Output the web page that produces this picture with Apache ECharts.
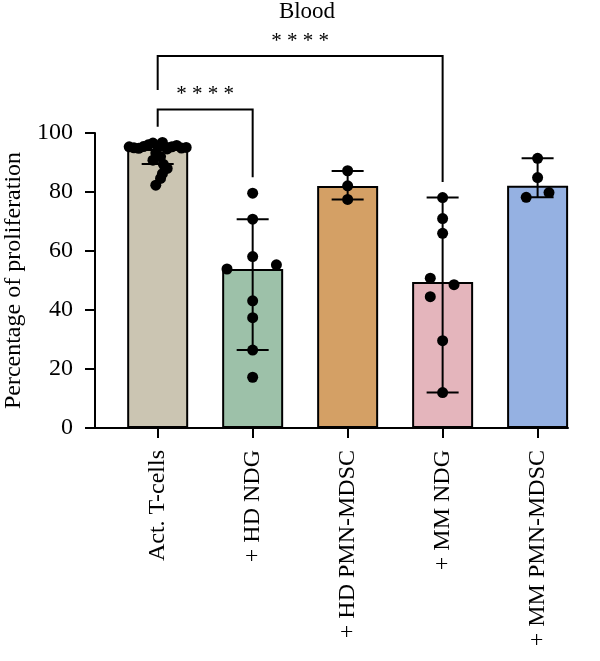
<!DOCTYPE html>
<html>
<head>
<meta charset="utf-8">
<script src="https://cdn.jsdelivr.net/npm/echarts@6/dist/echarts.min.js"></script>
<style>
  html, body { margin: 0; padding: 0; background: #fff; }
  #chart { width: 600px; height: 661px; }
</style>
</head>
<body>
<div id="chart"></div>
<script>
var categories = ['Act. T-cells', '+ HD NDG', '+ HD PMN-MDSC', '+ MM NDG', '+ MM PMN-MDSC'];
var barValues = [94.6, 53.9, 82.0, 49.5, 82.1];
var errLow = [89.5, 26.4, 77.5, 12.0, 78.2];
var errHigh = [96.5, 70.8, 87.1, 78.1, 91.4];
var barColors = ['#CBC5B2', '#9DC1A9', '#D4A065', '#E4B5BC', '#95B1E2'];
var yTicks = [0, 20, 40, 60, 80, 100];

// individual points: [group, x jitter, value]
var points = [
    [0, -0.30, 95.3], [0, -0.25, 95.0], [0, -0.20, 94.8], [0, -0.15, 95.4],
    [0, -0.10, 96.0], [0, -0.05, 96.6], [0, 0.00, 95.6], [0, 0.05, 96.8],
    [0, 0.10, 94.6], [0, 0.15, 95.3], [0, 0.20, 95.8], [0, 0.25, 94.9],
    [0, 0.30, 95.1], [0, -0.02, 93.2], [0, 0.03, 92.0], [0, -0.05, 90.8],
    [0, 0.06, 89.4], [0, 0.10, 88.0], [0, 0.05, 86.2], [0, 0.03, 84.6],
    [0, -0.02, 82.3],
    [1, 0, 79.6], [1, 0, 70.8], [1, 0, 58.1], [1, -0.27, 53.9], [1, 0.25, 55.3],
    [1, 0, 43.1], [1, 0, 37.4], [1, 0, 26.4], [1, 0, 17.2],
    [2, 0, 87.2], [2, 0, 82.1], [2, 0, 77.5],
    [3, 0, 78.1], [3, 0, 71.0], [3, 0, 66.0], [3, -0.13, 50.8], [3, 0.12, 48.6],
    [3, -0.13, 44.5], [3, 0, 29.6], [3, 0, 12.0],
    [4, 0, 91.4], [4, 0, 84.9], [4, -0.12, 78.2], [4, 0.12, 79.8]
];

// significance brackets: [from, to, top, left leg end, right leg end, label y]
var brackets = [
    [0, 1, 108.0, 102.1, 85.0, 113.0],
    [0, 3, 126.1, 114.6, 83.4, 131.0]
];

var serif = '"Liberation Serif", "DejaVu Serif", serif';

var chart = echarts.init(document.getElementById('chart'));

var option = {
    animation: false,
    title: {
        text: 'Blood',
        left: 302,
        top: -5,
        textAlign: 'center',
        textStyle: { fontFamily: serif, fontSize: 23, fontWeight: 'normal', color: '#000' }
    },
    grid: { left: 95, right: 32, top: 133, bottom: 233, outerBoundsMode: 'none', containLabel: false },
    xAxis: {
        type: 'value',
        min: -0.66,
        max: 4.32,
        splitLine: { show: false },
        axisLine: { show: true, onZero: false, lineStyle: { color: '#000', width: 2 } },
        axisTick: { show: true, length: 10, lineStyle: { color: '#000', width: 2 }, customValues: [0, 1, 2, 3, 4] },
        axisLabel: {
            customValues: [0, 1, 2, 3, 4],
            rotate: 90,
            margin: 22,
            fontFamily: serif,
            fontSize: 24,
            color: '#000',
            formatter: function (v) { return categories[Math.round(v)]; }
        }
    },
    yAxis: {
        type: 'value',
        min: 0,
        max: 100,
        interval: 20,
        name: 'Percentage of proliferation',
        nameLocation: 'middle',
        nameGap: 69,
        nameTextStyle: { fontFamily: serif, fontSize: 24, color: '#000' },
        splitLine: { show: false },
        axisLine: { show: true, onZero: false, lineStyle: { color: '#000', width: 2 } },
        axisTick: { show: true, length: 10, lineStyle: { color: '#000', width: 2 } },
        axisLabel: {
            margin: 22,
            fontFamily: serif,
            fontSize: 24,
            color: '#000',
            formatter: function (v) { return yTicks.indexOf(v) >= 0 ? String(v) : ''; }
        }
    },
    series: [
        {
            type: 'bar',
            barWidth: 61,
            z: 2,
            data: barValues.map(function (v, i) {
                return {
                    value: [i, v],
                    itemStyle: { color: barColors[i], borderColor: '#000', borderWidth: 2 }
                };
            })
        },
        {
            type: 'custom',
            z: 3,
            data: barValues.map(function (v, i) { return [i, errLow[i], errHigh[i]]; }),
            renderItem: function (params, api) {
                var lo = api.coord([api.value(0), api.value(1)]);
                var hi = api.coord([api.value(0), api.value(2)]);
                var w = 16;
                var style = { stroke: '#000', lineWidth: 2 };
                return {
                    type: 'group',
                    children: [
                        { type: 'line', shape: { x1: lo[0], y1: lo[1], x2: hi[0], y2: hi[1] }, style: style },
                        { type: 'line', shape: { x1: lo[0] - w, y1: lo[1], x2: lo[0] + w, y2: lo[1] }, style: style },
                        { type: 'line', shape: { x1: hi[0] - w, y1: hi[1], x2: hi[0] + w, y2: hi[1] }, style: style }
                    ]
                };
            }
        },
        {
            type: 'scatter',
            z: 4,
            symbolSize: 11,
            itemStyle: { color: '#000', opacity: 1 },
            data: points.map(function (p) { return [p[0] + p[1], p[2]]; })
        },
        {
            type: 'custom',
            z: 5,
            clip: false,
            data: brackets,
            renderItem: function (params, api) {
                var x1 = api.value(0), x2 = api.value(1);
                var top = api.value(2);
                var a = api.coord([x1, api.value(3)]);
                var b = api.coord([x1, top]);
                var c = api.coord([x2, top]);
                var d = api.coord([x2, api.value(4)]);
                var t = api.coord([(x1 + x2) / 2, api.value(5)]);
                return {
                    type: 'group',
                    children: [
                        {
                            type: 'polyline',
                            shape: { points: [a, b, c, d] },
                            style: { stroke: '#000', lineWidth: 2, fill: null }
                        },
                        {
                            type: 'text',
                            x: t[0],
                            y: t[1],
                            style: {
                                text: '* * * *',
                                fontFamily: serif,
                                fontSize: 21,
                                fill: '#000',
                                align: 'center',
                                verticalAlign: 'middle'
                            }
                        }
                    ]
                };
            }
        }
    ]
};

chart.setOption(option);
window.onresize = function () {
    chart.resize();
};
</script>
</body>
</html>
